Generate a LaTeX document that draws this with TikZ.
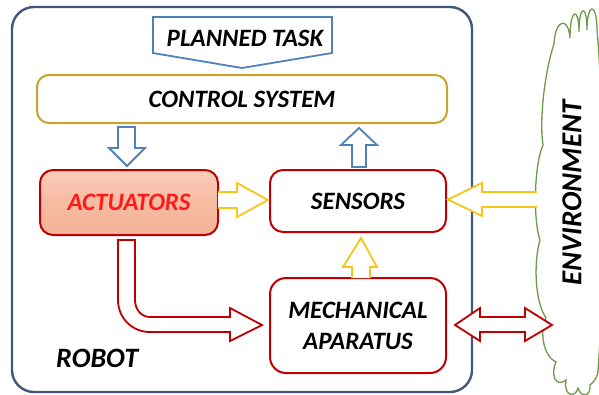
\documentclass[tikz,border=0pt]{standalone}
\usepackage{fontspec}
\setmainfont{Carlito}
\definecolor{robotblue}{HTML}{41587A}
\definecolor{ptblue}{HTML}{4F81BD}
\definecolor{ctrlgold}{HTML}{C9A42A}
\definecolor{arrowyellow}{HTML}{F5C518}
\definecolor{boxred}{HTML}{C00000}
\definecolor{actred}{HTML}{FF1A1A}
\definecolor{cloudgreen}{HTML}{6F9A46}
\definecolor{acttop}{HTML}{F9CDBA}
\definecolor{actbot}{HTML}{F4B398}
\tikzset{
  lbl/.style={font=\fontsize{25}{31}\selectfont\bfseries\itshape},
  box/.style={draw=boxred, line width=2pt, rounded corners=13pt, fill=white, inner sep=0pt, align=center, lbl},
  blueblock/.style={draw=ptblue, fill=white, line width=1.8pt, line join=miter},
  yellowblock/.style={draw=arrowyellow, fill=white, line width=1.8pt, line join=miter},
  redblock/.style={draw=boxred, fill=white, line width=1.8pt, line join=miter},
}
\begin{document}
\begin{tikzpicture}[x=1pt,y=-1pt]
\useasboundingbox (0,0) rectangle (599,394);
\fill[white] (0,0) rectangle (599,394);
% robot frame
\node[draw=robotblue, line width=2.4pt, rounded corners=22pt, minimum width=460pt, minimum height=385pt, inner sep=0pt] (robot) at (242,199.5) {};
\node[lbl, font=\fontsize{28}{32}\selectfont\bfseries\itshape, anchor=west, inner sep=0pt] (robotlbl) at (56,358) {ROBOT};
% planned task
\draw[draw=ptblue, fill=white, line width=1.8pt, line join=miter] (153,17) -- (332,17) -- (332,53) -- (242,68) -- (153,53) -- cycle;
\node[lbl] (task) at (245,38) {PLANNED TASK};
% control system
\node[box, draw=ctrlgold, rounded corners=12pt, minimum width=410pt, minimum height=48pt] (ctrl) at (242,99) {CONTROL SYSTEM};
% actuators
\node[box, top color=acttop, bottom color=actbot, middle color=actbot!70!acttop, text=actred, minimum width=178pt, minimum height=65pt] (act) at (129,202.5) {ACTUATORS};
% sensors
\node[box, minimum width=176pt, minimum height=62pt] (sens) at (358,201) {SENSORS};
% mechanical
\node[box, rounded corners=16pt, minimum width=176pt, minimum height=95pt] (mech) at (358,325.5) {MECHANICAL\\APARATUS};
% environment cloud
\begin{scope}
\clip (0,0) rectangle (599,394);
\draw[cloudgreen, fill=white, line width=1.3pt]
  (597,30) .. controls (597,2) and (587,2) .. (587,30)
  .. controls (587,4) and (579,4) .. (579,32)
  .. controls (579,6) and (570,8) .. (570,38)
  .. controls (568,15) and (555,20) .. (554,44)
  .. controls (545,70) and (539,120) .. (543,145)
  .. controls (534,165) and (533,220) .. (540,240)
  .. controls (534,260) and (534,300) .. (546,318)
  .. controls (540,330) and (542,355) .. (556,362)
  .. controls (550,375) and (556,388) .. (566,380)
  .. controls (563,397) and (576,398) .. (578,388)
  .. controls (581,398) and (591,397) .. (590,385)
  .. controls (596,380) and (598,375) .. (598,370)
  .. controls (604,300) and (604,100) .. (597,30) -- cycle;
\end{scope}
\node[lbl, font=\fontsize{29}{32}\selectfont\bfseries\itshape, rotate=90] (env) at (572,193) {ENVIRONMENT};
% blue arrows
\draw[blueblock] (118,127) -- (135,127) -- (135,148) -- (145,148) -- (127,166) -- (109,148) -- (118,148) -- cycle;
\draw[blueblock] (352,167) -- (366,167) -- (366,145) -- (377,145) -- (359,128) -- (341,145) -- (352,145) -- cycle;
% yellow arrows
\draw[yellowblock] (218,192) -- (237,192) -- (237,183) -- (268,200) -- (237,217) -- (237,208) -- (218,208);
\draw[yellowblock] (537,192) -- (482,192) -- (482,183) -- (448,199.5) -- (482,216) -- (482,207) -- (537,207);
\draw[yellowblock] (352,278) -- (352,267) -- (343,267) -- (361,238) -- (377,267) -- (370,267) -- (370,278);
% red bent arrow
\draw[redblock] (118,240) -- (118,300) .. controls (118,318) and (132,332) .. (150,332) -- (230,332) -- (230,341) -- (262,325) -- (230,308) -- (230,317) -- (150,317) .. controls (141,317) and (135,309) .. (135,300) -- (135,240) -- cycle;
% red double arrow
\draw[redblock] (455,325) -- (480,308) -- (480,317) -- (525,317) -- (525,308) -- (552,325) -- (525,341) -- (525,332) -- (480,332) -- (480,341) -- cycle;
\end{tikzpicture}
\end{document}
